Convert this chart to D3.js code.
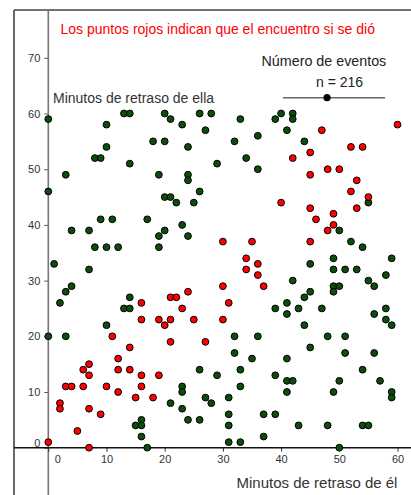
<!DOCTYPE html>
<html>
<head>
<meta charset="utf-8">
<script src="https://cdn.jsdelivr.net/npm/d3@7"></script>
<style>
  body { margin: 0; background: #fff; }
  svg { display: block; font-family: "Liberation Sans", Arial, sans-serif; }
</style>
</head>
<body>
<svg id="encuentros" width="411" height="495"></svg>
<script>
/* datos: (minutos de retraso de él, minutos de retraso de ella) */
var puntosVerdes = [
    [0,59],[10,58],[13,60],[14,60],[20,60],[21,59],[23,58],[26,60],[28,60],[27,57],
    [33,59],[39,59],[40,60],[42,60],[42,59],[41,57],[18,55],[20,55],[24,54],[10,54],
    [8,52],[9,52],[14,51],[3,49],[19,49],[24,49],[24,48],[0,46],[26,46],[20,45],
    [21,45],[22,44],[25,44],[9,41],[11,41],[17,41],[4,39],[7,39],[20,39],[23,40],
    [19,38],[24,38],[8,36],[10,36],[12,36],[19,36],[1,33],[7,32],[4,29],[3,28],
    [2,26],[14,27],[13,25],[14,25],[36,56],[32,55],[44,55],[34,52],[29,51],[36,50],
    [55,44],[50,39],[52,37],[54,36],[49,34],[59,34],[45,33],[49,32],[51,32],[53,32],
    [58,31],[42,30],[55,30],[49,29],[50,29],[56,29],[45,28],[49,28],[44,27],[41,26],
    [39,25],[43,25],[47,25],[58,25],[41,24],[56,24],[58,23],[59,22],[44,22],[32,20],
    [36,20],[48,20],[51,20],[45,18],[32,17],[51,17],[56,17],[35,16],[41,16],[33,14],
    [54,14],[29,13],[39,13],[41,12],[42,12],[50,12],[57,12],[33,11],[41,10],[49,10],
    [59,10],[59,9],[27,9],[31,9],[28,8],[31,6],[37,6],[39,6],[31,4],[43,4],
    [48,4],[54,4],[55,4],[37,2],[31,1],[33,1],[50,0],[10,22],[0,20],[3,20],
    [26,14],[23,11],[23,10],[21,8],[23,7],[16,5],[24,5],[26,5],[15,4],[16,4],
    [16,2],[17,0]
];
var puntosRojos = [
    [47,57],[60,58],[16,26],[21,27],[22,27],[24,28],[23,25],[52,54],[54,54],[45,53],
    [42,52],[48,50],[50,50],[45,49],[53,48],[52,46],[55,45],[40,44],[45,43],[53,43],
    [49,42],[46,41],[49,40],[48,39],[30,37],[35,37],[45,37],[34,34],[36,33],[34,32],
    [36,31],[30,29],[37,29],[31,26],[30,23],[27,19],[16,23],[19,23],[21,23],[25,23],
    [20,22],[11,20],[21,19],[14,18],[12,16],[6,14],[7,15],[12,14],[14,14],[7,13],
    [16,13],[19,13],[3,11],[4,11],[6,11],[10,11],[16,11],[12,10],[15,9],[18,9],
    [2,8],[2,7],[7,7],[9,6],[5,3],[0,1],[7,0]
];
var xTicks = [0, 10, 20, 30, 40, 50, 60];
var yTicks = [0, 10, 20, 30, 40, 50, 60, 70];
var numEventos = 216;
var sliderRango = [0, 500];

var titulo = "Los puntos rojos indican que el encuentro si se dió";
var etiquetaX = "Minutos de retraso de él";
var etiquetaY = "Minutos de retraso de ella";

function encuentrosChart() {
    var width = 411;
    var height = 495;
    var frameLeft = 14, frameTop = 10;

    var verde = "#0b4d0b";
    var rojo = "#ff0000";

    var svg = d3.select("#encuentros");

    var xAxis = d3.scaleLinear()
        .domain([0, 60])
        .range([48.3, 397.5]);

    var yAxis = d3.scaleLinear()
        .domain([0, 70])
        .range([447.7, 57.8]);

    var slider = d3.scaleLinear()
        .domain(sliderRango)
        .range([283, 385]);

    /* Frame of the graphics view */
    svg.append("line")
        .attr("x1", frameLeft).attr("y1", frameTop)
        .attr("x2", width).attr("y2", frameTop)
        .attr("stroke", "#444")
        .attr("stroke-width", 1.6);
    svg.append("line")
        .attr("x1", frameLeft).attr("y1", frameTop)
        .attr("x2", frameLeft).attr("y2", height)
        .attr("stroke", "#444")
        .attr("stroke-width", 1.6);

    /* Axes */
    var gy = svg.append("g")
        .attr("transform", "translate(" + xAxis(0) + ",0)")
        .call(d3.axisLeft(yAxis).tickValues(yTicks).tickSize(4).tickPadding(4));
    gy.select(".domain").remove();
    gy.selectAll("line").attr("stroke", "#555");
    gy.selectAll("text")
        .attr("font-family", "Liberation Sans, Arial, sans-serif")
        .attr("font-size", 11)
        .attr("fill", "#333")
        .attr("dy", d => d == 0 ? "-0.15em" : "0.32em");

    svg.append("line")
        .attr("x1", xAxis(0)).attr("y1", frameTop)
        .attr("x2", xAxis(0)).attr("y2", height)
        .attr("stroke", "#777")
        .attr("stroke-width", 1.6);

    var gx = svg.append("g")
        .attr("transform", "translate(0," + yAxis(0) + ")")
        .call(d3.axisBottom(xAxis).tickValues(xTicks).tickSize(4).tickPadding(4));
    gx.select(".domain").remove();
    gx.selectAll("line").attr("stroke", "#333");
    gx.selectAll("text")
        .attr("font-family", "Liberation Sans, Arial, sans-serif")
        .attr("font-size", 11)
        .attr("fill", "#333")
        .attr("dx", d => d == 0 ? 9 : 0);

    svg.append("line")
        .attr("x1", frameLeft).attr("y1", yAxis(0))
        .attr("x2", width).attr("y2", yAxis(0))
        .attr("stroke", "#111")
        .attr("stroke-width", 1.4);

    /* Labels */
    svg.append("text")
        .attr("x", 60.5)
        .attr("y", 33.5)
        .attr("font-size", 14)
        .attr("fill", rojo)
        .text(titulo);

    svg.append("text")
        .attr("x", 53)
        .attr("y", 103)
        .attr("font-size", 14)
        .attr("fill", "#333")
        .text(etiquetaY);

    svg.append("text")
        .attr("x", 236.5)
        .attr("y", 488)
        .attr("font-size", 15)
        .attr("fill", "#333")
        .text(etiquetaX);

    /* Slider "Número de eventos" */
    svg.append("text")
        .attr("x", 261.5)
        .attr("y", 65.7)
        .attr("font-size", 14.3)
        .attr("fill", "#222")
        .text("Número de eventos");
    svg.append("text")
        .attr("x", 316)
        .attr("y", 86.7)
        .attr("font-size", 14)
        .attr("fill", "#222")
        .text("n = " + numEventos);
    svg.append("line")
        .attr("x1", slider.range()[0]).attr("y1", 97.7)
        .attr("x2", slider.range()[1]).attr("y2", 97.7)
        .attr("stroke", "#666")
        .attr("stroke-width", 1.5);
    svg.append("circle")
        .attr("cx", slider(numEventos))
        .attr("cy", 97.7)
        .attr("r", 3.6)
        .attr("fill", "#000");

    /* Points */
    svg.selectAll("circle.verde")
        .data(puntosVerdes)
        .join("circle")
        .attr("class", "verde")
        .attr("cx", d => xAxis(d[0]))
        .attr("cy", d => yAxis(d[1]))
        .attr("r", 3.4)
        .attr("fill", verde)
        .attr("stroke", "#000")
        .attr("stroke-width", 1);

    svg.selectAll("circle.rojo")
        .data(puntosRojos)
        .join("circle")
        .attr("class", "rojo")
        .attr("cx", d => xAxis(d[0]))
        .attr("cy", d => yAxis(d[1]))
        .attr("r", 3.4)
        .attr("fill", rojo)
        .attr("stroke", "#000")
        .attr("stroke-width", 1);

    return svg;
}
encuentrosChart();
</script>
</body>
</html>
